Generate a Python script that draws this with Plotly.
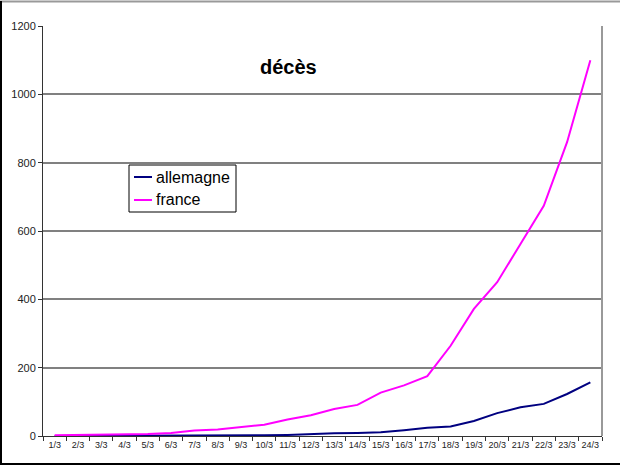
import plotly.graph_objects as go

dates = ["1/3","2/3","3/3","4/3","5/3","6/3","7/3","8/3","9/3","10/3","11/3","12/3",
         "13/3","14/3","15/3","16/3","17/3","18/3","19/3","20/3","21/3","22/3","23/3","24/3"]
allemagne = [0,0,0,0,0,0,0,0,2,2,3,6,8,9,11,17,24,28,44,67,84,94,123,157]
france = [2,3,4,4,6,9,16,19,25,33,48,61,79,91,127,148,175,264,372,450,562,674,860,1100]
series_names = ["allemagne", "france"]
series_colors = ["#000080", "#FF00FF"]

W, H = 620, 466
L, R, T, B = 43, 18, 26, 30
pw, ph = W - L - R, H - T - B

def px(x):
    return (x - L) / pw

def py(y):
    return 1 - (y - T) / ph

fig = go.Figure()
for name, vals, col in zip(series_names, [allemagne, france], series_colors):
    fig.add_trace(go.Scatter(x=dates, y=vals, name=name, mode="lines",
                             line=dict(color=col, width=2)))

shapes = [
    dict(type="line", xref="paper", yref="paper", x0=px(0), x1=px(W),
         y0=py(1.5), y1=py(1.5), line=dict(color="#999", width=2)),
    dict(type="line", xref="paper", yref="paper", x0=px(1), x1=px(1),
         y0=py(1), y1=py(464), line=dict(color="black", width=2)),
    dict(type="line", xref="paper", yref="paper", x0=px(0), x1=px(W),
         y0=py(464), y1=py(464), line=dict(color="black", width=2)),
    dict(type="line", xref="paper", yref="paper", x0=1, x1=1, y0=0, y1=1,
         line=dict(color="#999", width=2)),
    # legend box
    dict(type="rect", xref="paper", yref="paper", x0=px(129), x1=px(236),
         y0=py(165), y1=py(212), line=dict(color="black", width=1), fillcolor="white"),
]
annotations = [dict(text="<b>décès</b>", x=px(288), y=py(67), xref="paper", yref="paper",
                    xanchor="center", yanchor="middle", showarrow=False,
                    font=dict(size=20, color="black", family="Liberation Sans, Arial"))]
for i, (name, col) in enumerate(zip(series_names, series_colors)):
    yy = 177 + 23 * i
    shapes.append(dict(type="line", xref="paper", yref="paper", x0=px(134), x1=px(152),
                       y0=py(yy), y1=py(yy), line=dict(color=col, width=2)))
    annotations.append(dict(text=name, x=px(154), y=py(yy), xref="paper", yref="paper",
                            xanchor="left", yanchor="middle", showarrow=False,
                            font=dict(size=16, color="black", family="Liberation Sans, Arial")))

fig.update_layout(
    width=W, height=H,
    margin=dict(l=L, r=R, t=T, b=B),
    paper_bgcolor="white", plot_bgcolor="white",
    font=dict(family="Liberation Sans, Arial", color="#222"),
    showlegend=False,
    annotations=annotations,
    shapes=shapes,
)
fig.update_xaxes(type="category", range=[-0.5, 23.5], tickson="boundaries",
                 ticks="outside", ticklen=4, tickcolor="#333",
                 showline=True, linecolor="#333", linewidth=1,
                 showgrid=False, tickfont=dict(size=9, color="#222"), tickangle=0)
fig.update_yaxes(range=[0, 1200], dtick=200, ticks="outside", ticklen=4, tickcolor="#333",
                 showline=True, linecolor="#333", linewidth=1,
                 showgrid=True, gridcolor="#808080", gridwidth=1.5,
                 zeroline=False, tickfont=dict(size=11, color="#222"))

fig.write_html("out.html", config={"displayModeBar": False},
               post_script="document.body.style.margin='0';")
